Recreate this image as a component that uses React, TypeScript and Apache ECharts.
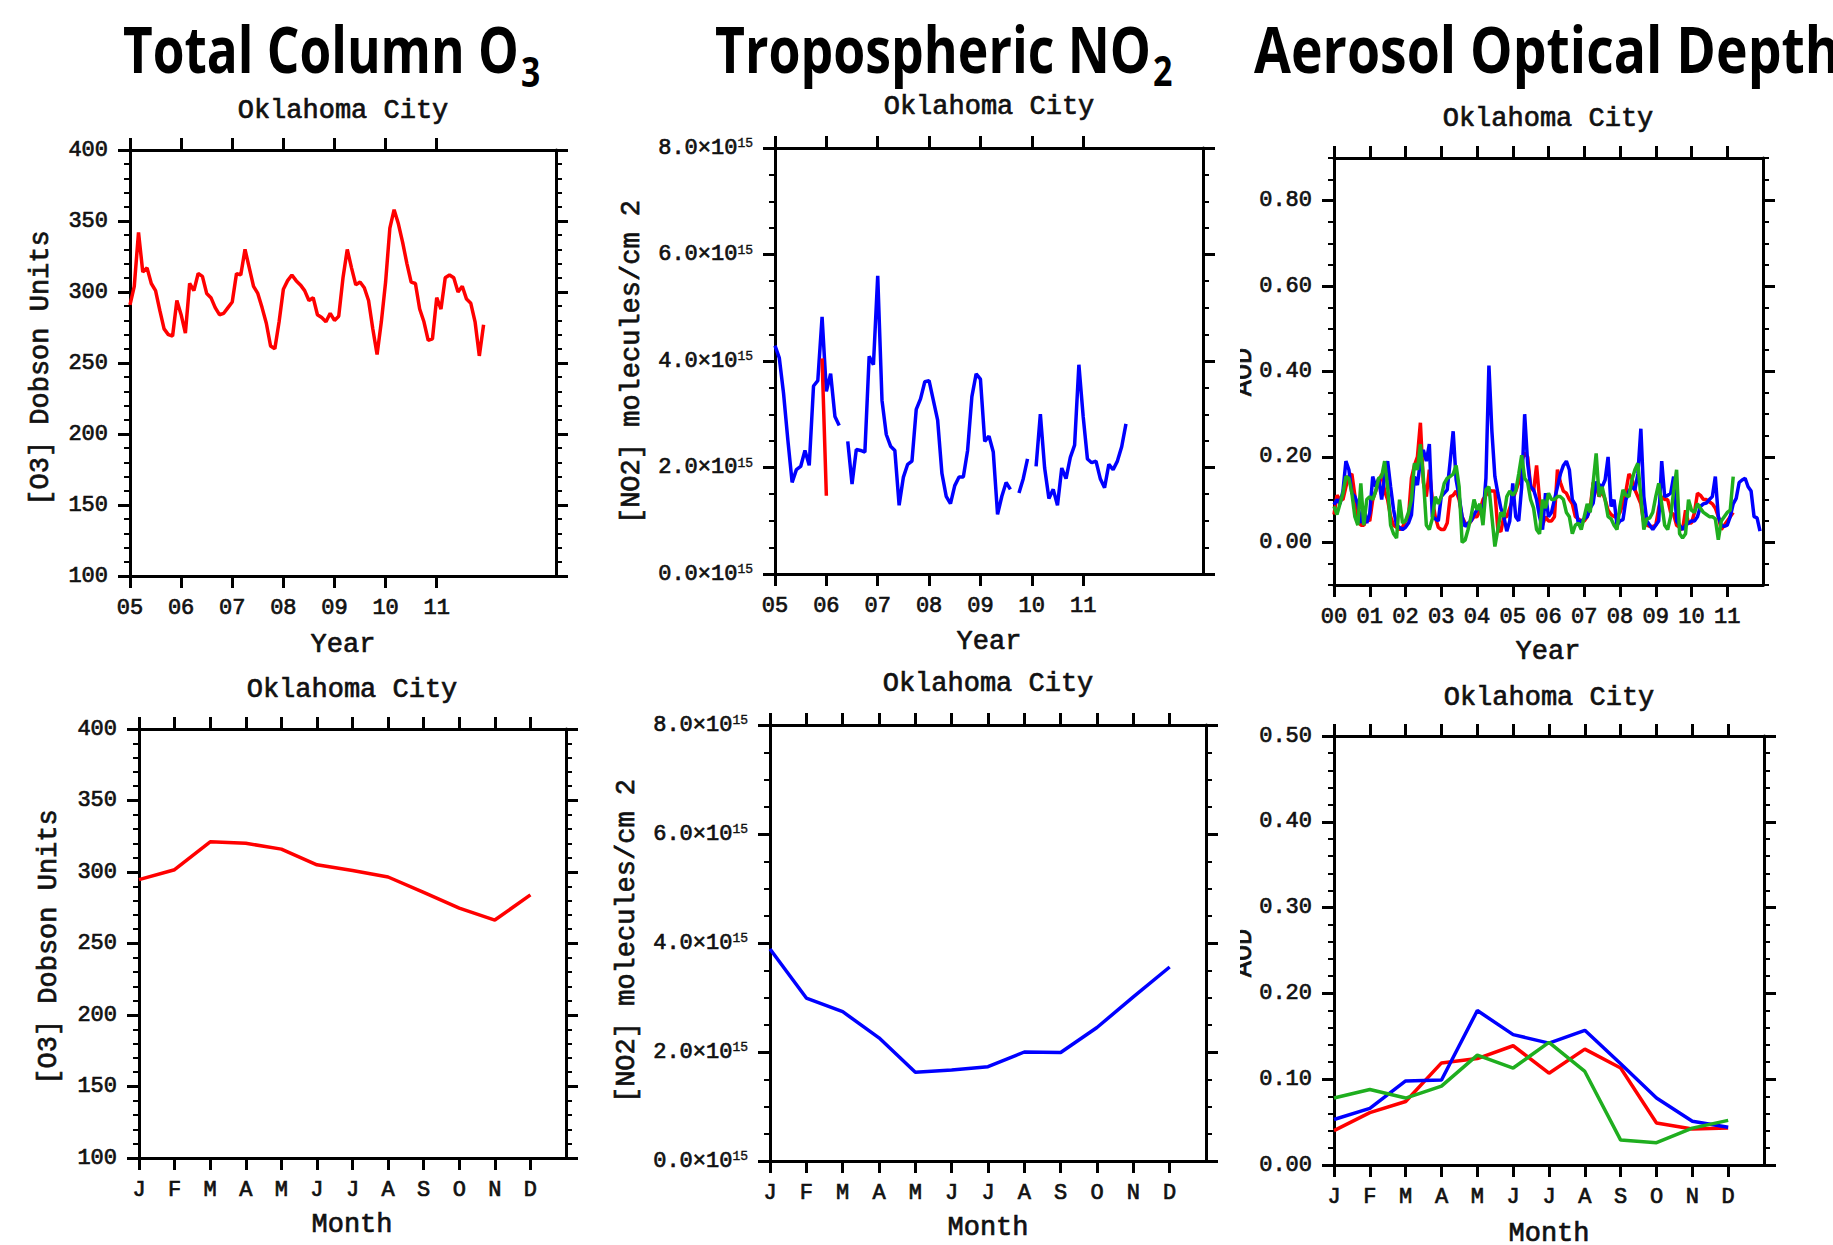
import React, { useEffect, useRef } from 'react';
import * as echarts from 'echarts';

// ---------- tick labels ----------
const YEAR_LABELS_05 = ['05', '06', '07', '08', '09', '10', '11'];
const YEAR_LABELS_00 = ['00', '01', '02', '03', '04', '05', '06', '07', '08', '09', '10', '11'];
const MONTH_LABELS = ['J', 'F', 'M', 'A', 'M', 'J', 'J', 'A', 'S', 'O', 'N', 'D'];

// ---------- Total column O3, monthly 2005-2011 (Dobson Units) ----------
const O3_MONTHLY = [
  291, 304, 342, 314, 317, 306, 301, 287, 274, 270, 269, 294,
  284, 271, 306, 301, 313, 311, 299, 296, 289, 284, 285, 289,
  293, 313, 312, 330, 317, 304, 299, 289, 278, 262, 260, 279,
  302, 308, 312, 308, 305, 301, 294, 296, 284, 282, 279, 285,
  280, 283, 310, 330, 317, 305, 307, 303, 294, 274, 256, 279,
  307, 345, 358, 348, 335, 320, 307, 306, 288, 279, 266, 267,
  296, 288, 310, 312, 310, 300, 304, 295, 292, 279, 255, 277,
];

// ---------- Tropospheric NO2, monthly 2005-2011 (x 1e15 molecules/cm2) ----------
const NO2_MONTHLY: (number | null)[] = [
  4.29, 4.06, 3.39, 2.52, 1.72, 1.96, 2.02, 2.32, 2.04, 3.53, 3.63, 4.83,
  3.43, 3.76, 2.96, 2.79, null, 2.49, 1.69, 2.34, 2.32, 2.29, 4.09, 3.93,
  5.60, 3.26, 2.62, 2.40, 2.32, 1.29, 1.82, 2.06, 2.12, 3.09, 3.29, 3.61,
  3.63, 3.26, 2.89, 1.89, 1.46, 1.32, 1.66, 1.82, 1.82, 2.32, 3.33, 3.76,
  3.66, 2.49, 2.59, 2.29, 1.12, 1.46, 1.72, 1.59, null, 1.52, 1.79, 2.16,
  null, 2.02, 3.00, 1.99, 1.42, 1.59, 1.29, 1.99, 1.79, 2.19, 2.42, 3.93,
  2.96, 2.16, 2.09, 2.12, 1.79, 1.62, 2.06, 1.96, 2.12, 2.39, 2.82,
];
const NO2_RED_MONTHS = [11, 12];
const NO2_RED_VALUES = [4.05, 1.47];

// ---------- AOD monthly 2000-2011 ----------
const AOD_BLUE = [
  0.088, 0.10, 0.09, 0.12, 0.19, 0.17, 0.115, 0.107, 0.09, 0.045, 0.08, 0.045,
  0.068, 0.154, 0.13, 0.15, 0.10, 0.154, 0.19, 0.13, 0.076, 0.04, 0.035, 0.03,
  0.035, 0.045, 0.064, 0.154, 0.134, 0.19, 0.216, 0.19, 0.23, 0.06, 0.055, 0.05,
  0.107, 0.115, 0.123, 0.19, 0.26, 0.146, 0.107, 0.06, 0.037, 0.045, 0.05, 0.065,
  0.076, 0.08, 0.06, 0.15, 0.414, 0.26, 0.154, 0.115, 0.08, 0.06, 0.026, 0.05,
  0.138, 0.06, 0.05, 0.13, 0.30, 0.185, 0.13, 0.123, 0.10, 0.06, 0.03, 0.115,
  0.06, 0.07, 0.10, 0.13, 0.16, 0.18, 0.19, 0.17, 0.10, 0.088, 0.045, 0.05,
  0.055, 0.06, 0.08, 0.092, 0.142, 0.135, 0.13, 0.146, 0.20, 0.084, 0.10, 0.04,
  0.05, 0.053, 0.10, 0.12, 0.13, 0.123, 0.16, 0.266, 0.107, 0.05, 0.04, 0.03,
  0.04, 0.05, 0.19, 0.107, 0.11, 0.115, 0.154, 0.05, 0.04, 0.03, 0.04, 0.045,
  0.05, 0.05, 0.06, 0.084, 0.09, 0.092, 0.10, 0.107, 0.154, 0.06, 0.04, 0.037,
  0.04, 0.06, 0.09, 0.103, 0.14, 0.146, 0.15, 0.13, 0.12, 0.06, 0.057, 0.026,
];
const AOD_RED = [
  0.065, 0.11, 0.10, 0.10, 0.13, 0.155, 0.16, 0.11, 0.06, 0.04, 0.04, 0.055,
  0.05, 0.10, 0.12, 0.14, 0.16, 0.12, 0.10, 0.06, 0.04, 0.035, 0.03, 0.035,
  0.05, 0.06, 0.15, 0.18, 0.20, 0.28, 0.14, 0.107, 0.17, 0.10, 0.06, 0.035,
  0.03, 0.03, 0.045, 0.107, 0.11, 0.12, 0.10, 0.06, 0.045, 0.04, 0.05, 0.06,
  0.06, 0.075, 0.10, 0.11, 0.123, 0.12, 0.12, 0.03, 0.025, 0.06, 0.06, 0.08,
  0.10, 0.12, 0.14, 0.19, 0.21, 0.20, 0.13, 0.12, 0.18, 0.10, 0.04, 0.06,
  0.05, 0.05, 0.06, 0.17, 0.14, 0.12, 0.115, 0.10, 0.09, 0.06, 0.055, 0.05,
  0.05, 0.06, 0.08, 0.14, 0.13, 0.107, 0.12, 0.10, 0.075, 0.065, 0.06, 0.06,
  0.07, 0.09, 0.12, 0.16, 0.15, 0.123, 0.107, 0.09, 0.045, 0.04, 0.037, 0.037,
  0.04, 0.08, 0.107, 0.10, 0.10, 0.07, 0.065, 0.04, 0.035, 0.03, 0.075, 0.045,
  0.045, 0.07, 0.115, 0.11, 0.10, 0.10, 0.095, 0.09, 0.08, 0.06, 0.03, 0.04,
  0.05, 0.06, 0.07,
];
const AOD_GREEN = [
  0.084, 0.065, 0.09, 0.115, 0.154, 0.15, 0.115, 0.06, 0.04, 0.138, 0.04, 0.10,
  0.107, 0.10, 0.12, 0.15, 0.154, 0.19, 0.13, 0.04, 0.02, 0.01, 0.10, 0.045,
  0.05, 0.07, 0.10, 0.185, 0.17, 0.23, 0.15, 0.04, 0.03, 0.055, 0.107, 0.09,
  0.107, 0.138, 0.15, 0.154, 0.16, 0.18, 0.13, 0.0, 0.005, 0.03, 0.06, 0.10,
  0.076, 0.09, 0.04, 0.123, 0.13, 0.06, -0.01, 0.03, 0.07, 0.06, 0.107, 0.12,
  0.11, 0.12, 0.16, 0.204, 0.15, 0.14, 0.10, 0.08, 0.03, 0.02, 0.10, 0.08,
  0.115, 0.10, 0.10, 0.107, 0.107, 0.10, 0.07, 0.06, 0.02, 0.04, 0.045, 0.03,
  0.06, 0.09, 0.07, 0.14, 0.208, 0.107, 0.13, 0.10, 0.06, 0.055, 0.04, 0.03,
  0.085, 0.123, 0.11, 0.107, 0.146, 0.17, 0.185, 0.107, 0.03, 0.055, 0.057, 0.07,
  0.107, 0.138, 0.09, 0.04, 0.03, 0.06, 0.12, 0.17, 0.02, 0.01, 0.02, 0.10,
  0.075, 0.07, 0.09, 0.08, 0.07, 0.065, 0.06, 0.06, 0.055, 0.006, 0.05, 0.06,
  0.07, 0.075, 0.154,
];

// ---------- monthly climatologies ----------
const O3_CLIM = [294.7, 301.6, 321.1, 320.1, 316.0, 305.0, 301.1, 296.5, 285.7, 274.7, 266.4, 284.0];
const NO2_CLIM = [3.89, 2.99, 2.74, 2.26, 1.63, 1.67, 1.73, 2.0, 1.99, 2.45, 3.01, 3.56];
const AOD_CLIM_RED = [0.04, 0.061, 0.074, 0.119, 0.124, 0.139, 0.107, 0.135, 0.113, 0.049, 0.042, 0.043];
const AOD_CLIM_BLUE = [0.053, 0.066, 0.098, 0.099, 0.18, 0.152, 0.142, 0.157, 0.118, 0.078, 0.051, 0.044];
const AOD_CLIM_GREEN = [0.078, 0.088, 0.078, 0.092, 0.128, 0.113, 0.143, 0.109, 0.029, 0.026, 0.043, 0.052];

const RED = '#ff0000';
const BLUE = '#0000ff';
const GREEN = '#1fae1f';
const INK = '#111111';
const FONT = '"Liberation Mono", "DejaVu Sans Mono", monospace';
const TITLE_FONT = '"Open Sans", "Noto Sans", sans-serif';
const TEXT_STROKE = 0.7;

function steps(min: number, max: number, step: number): number[] {
  const out: number[] = [];
  const n = Math.round((max - min) / step);
  for (let k = 0; k <= n; k++) out.push(+(min + k * step).toFixed(6));
  return out;
}

function pairs(values: (number | null)[], xs?: number[]) {
  return values.map((v, i) => [xs ? xs[i] : i, v === null ? '-' : v]);
}

function measure(text: string, font: string): number {
  const ctx = document.createElement('canvas').getContext('2d')!;
  ctx.font = font;
  return ctx.measureText(text).width;
}

type Panel = {
  box: [number, number, number, number];
  xMax: number;
  xTicks: number[];
  xFmt: (v: number) => string;
  yMin: number;
  yMax: number;
  yMajor: number[];
  yMinor: number;
  yFmt: (v: number) => string;
  series: { color: string; data: any[] }[];
  subtitle: [number, number];
  yName?: [string, number, number];
  xName: [string, number, number];
};

function plainText(text: string, x: number, y: number, rotation = 0) {
  return {
    type: 'text', x, y, rotation, z: 10,
    style: {
      text, fontFamily: FONT, fontSize: 27, fill: INK, stroke: INK, lineWidth: TEXT_STROKE,
      align: 'center', verticalAlign: 'middle',
    },
  };
}

function buildOption() {
  const yearFmt05 = (v: number) => YEAR_LABELS_05[Math.round(v / 12)] ?? '';
  const yearFmt00 = (v: number) => YEAR_LABELS_00[Math.round(v / 12)] ?? '';
  const monFmt = (v: number) => MONTH_LABELS[Math.round(v)] ?? '';
  const no2Fmt = (v: number) => `{b|${v.toFixed(1)}×10}{s|15}`;
  const aodFmt = (v: number) => v.toFixed(2);
  const intFmt = (v: number) => String(v);

  const panels: Panel[] = [
    {
      box: [130, 150, 426, 426], xMax: 100, xTicks: steps(0, 72, 12), xFmt: yearFmt05,
      yMin: 100, yMax: 400, yMajor: steps(100, 400, 50), yMinor: 10, yFmt: intFmt,
      series: [{ color: RED, data: pairs(O3_MONTHLY) }],
      subtitle: [343, 111], yName: ['[O3] Dobson Units', 41, 368], xName: ['Year', 343, 645],
    },
    {
      box: [775, 148, 428, 426], xMax: 100, xTicks: steps(0, 72, 12), xFmt: yearFmt05,
      yMin: 0, yMax: 8, yMajor: steps(0, 8, 2), yMinor: 0.5, yFmt: no2Fmt,
      series: [
        { color: BLUE, data: pairs(NO2_MONTHLY) },
        { color: RED, data: pairs(NO2_RED_VALUES, NO2_RED_MONTHS) },
      ],
      subtitle: [989, 107], yName: ['[NO2] molecules/cm 2', 632, 362], xName: ['Year', 989, 642],
    },
    {
      box: [1334, 158, 429, 427], xMax: 144, xTicks: steps(0, 132, 12), xFmt: yearFmt00,
      yMin: -0.1, yMax: 0.9, yMajor: steps(0, 0.8, 0.2), yMinor: 0.05, yFmt: aodFmt,
      series: [
        { color: RED, data: pairs(AOD_RED) },
        { color: BLUE, data: pairs(AOD_BLUE) },
        { color: GREEN, data: pairs(AOD_GREEN) },
      ],
      subtitle: [1548, 119], xName: ['Year', 1548, 652],
    },
    {
      box: [139, 729, 427, 429], xMax: 12, xTicks: steps(0, 11, 1), xFmt: monFmt,
      yMin: 100, yMax: 400, yMajor: steps(100, 400, 50), yMinor: 10, yFmt: intFmt,
      series: [{ color: RED, data: pairs(O3_CLIM) }],
      subtitle: [352, 690], yName: ['[O3] Dobson Units', 49, 947], xName: ['Month', 352, 1225],
    },
    {
      box: [770, 725, 436, 436], xMax: 12, xTicks: steps(0, 11, 1), xFmt: monFmt,
      yMin: 0, yMax: 8, yMajor: steps(0, 8, 2), yMinor: 0.5, yFmt: no2Fmt,
      series: [{ color: BLUE, data: pairs(NO2_CLIM) }],
      subtitle: [988, 684], yName: ['[NO2] molecules/cm 2', 627, 941], xName: ['Month', 988, 1228],
    },
    {
      box: [1334, 736, 430, 429], xMax: 12, xTicks: steps(0, 11, 1), xFmt: monFmt,
      yMin: 0, yMax: 0.5, yMajor: steps(0, 0.5, 0.1), yMinor: 0.02, yFmt: aodFmt,
      series: [
        { color: RED, data: pairs(AOD_CLIM_RED) },
        { color: BLUE, data: pairs(AOD_CLIM_BLUE) },
        { color: GREEN, data: pairs(AOD_CLIM_GREEN) },
      ],
      subtitle: [1549, 698], xName: ['Month', 1549, 1234],
    },
  ];

  const grid: any[] = [];
  const xAxis: any[] = [];
  const yAxis: any[] = [];
  const series: any[] = [];
  const graphic: any[] = [];

  const lineStyle = { color: '#000', width: 3 };
  const labelStyle = {
    fontFamily: FONT, fontSize: 22, color: INK,
    textBorderColor: INK, textBorderWidth: TEXT_STROKE,
  };

  panels.forEach((p, gi) => {
    const [left, top, width, height] = p.box;
    grid.push({ left, top, width, height, containLabel: false });

    const xBase = {
      gridIndex: gi, type: 'value', min: 0, max: p.xMax, splitLine: { show: false },
      axisLine: { show: true, onZero: false, lineStyle },
      axisTick: { show: true, inside: false, customValues: p.xTicks, length: 12, lineStyle: { color: '#000', width: 3 } },
    };
    const xIdx = xAxis.length;
    xAxis.push({
      ...xBase, position: 'bottom',
      axisLabel: { show: true, customValues: p.xTicks, formatter: p.xFmt, margin: 21, ...labelStyle },
    });
    xAxis.push({ ...xBase, position: 'top', axisLabel: { show: false } });

    const yBase = { gridIndex: gi, type: 'value', min: p.yMin, max: p.yMax, splitLine: { show: false } };
    const yIdx = yAxis.length;
    yAxis.push({
      ...yBase, position: 'left',
      axisLine: { show: true, onZero: false, lineStyle },
      axisTick: { show: true, inside: false, customValues: p.yMajor, length: 12, lineStyle: { color: '#000', width: 3 } },
      axisLabel: {
        show: true, customValues: p.yMajor, formatter: p.yFmt, margin: 22, ...labelStyle,
        rich: {
          b: { fontFamily: FONT, fontSize: 22, color: INK, textBorderColor: INK, textBorderWidth: TEXT_STROKE },
          s: { fontFamily: FONT, fontSize: 13, color: INK, verticalAlign: 'top', textBorderColor: INK, textBorderWidth: 0.4 },
        },
      },
    });
    yAxis.push({
      ...yBase, position: 'left', interval: p.yMinor,
      axisLine: { show: false, onZero: false },
      axisTick: { show: true, inside: false, length: 6, lineStyle: { color: '#000', width: 2 } },
      axisLabel: { show: false },
    });
    yAxis.push({
      ...yBase, position: 'right',
      axisLine: { show: true, onZero: false, lineStyle },
      axisTick: { show: true, inside: false, customValues: p.yMajor, length: 12, lineStyle: { color: '#000', width: 3 } },
      axisLabel: { show: false },
    });
    yAxis.push({
      ...yBase, position: 'right', interval: p.yMinor,
      axisLine: { show: false, onZero: false },
      axisTick: { show: true, inside: false, length: 6, lineStyle: { color: '#000', width: 2 } },
      axisLabel: { show: false },
    });

    p.series.forEach((s) => {
      series.push({
        type: 'line', xAxisIndex: xIdx, yAxisIndex: yIdx, data: s.data,
        showSymbol: false, symbol: 'none', connectNulls: false, silent: true,
        lineStyle: { color: s.color, width: 3.5 }, itemStyle: { color: s.color },
      });
    });

    graphic.push(plainText('Oklahoma City', p.subtitle[0], p.subtitle[1]));
    graphic.push(plainText(p.xName[0], p.xName[1], p.xName[2]));
    if (p.yName) graphic.push(plainText(p.yName[0], p.yName[1], p.yName[2], Math.PI / 2));
  });

  // "AOD" axis names, cut by the left edge of the original image panel
  [372, 953].forEach((cy) => {
    graphic.push(plainText('AOD', 1244, cy, Math.PI / 2));
    graphic.push({
      type: 'rect', z: 20, shape: { x: 1222, y: cy - 60, width: 18, height: 120 },
      style: { fill: '#fff' },
    });
  });

  // big panel headers
  const titleFont = `bold 64px ${TITLE_FONT}`;
  const titles: { main: string; sub: string; left: number; width: number }[] = [
    { main: 'Total Column O', sub: '3', left: 123, width: 396 },
    { main: 'Tropospheric NO', sub: '2', left: 715, width: 436 },
    { main: 'Aerosol Optical Depth', sub: '', left: 1254, width: 586 },
  ];
  titles.forEach((t) => {
    const natural = measure(t.main, titleFont) || t.width;
    const sx = t.width / natural;
    graphic.push({
      type: 'text', x: t.left, y: 48, scaleX: sx, z: 10,
      style: { text: t.main, fontFamily: TITLE_FONT, fontWeight: 'bold', fontSize: 64, fill: '#000', align: 'left', verticalAlign: 'middle' },
    });
    if (t.sub) {
      graphic.push({
        type: 'text', x: t.left + t.width + 2, y: 70, scaleX: sx, z: 10,
        style: { text: t.sub, fontFamily: TITLE_FONT, fontWeight: 'bold', fontSize: 42, fill: '#000', align: 'left', verticalAlign: 'middle' },
      });
    }
  });

  return {
    animation: false,
    backgroundColor: '#ffffff',
    grid, xAxis, yAxis, series, graphic,
  };
}

export default function App() {
  const ref = useRef<HTMLDivElement>(null);
  useEffect(() => {
    if (!ref.current) return;
    const chart = echarts.init(ref.current, null, { renderer: 'svg' });
    chart.setOption(buildOption() as any);
    return () => chart.dispose();
  }, []);
  return (
    <div
      ref={ref}
      style={{ position: 'absolute', left: 0, top: 0, width: 1833, height: 1245, background: '#fff' }}
    />
  );
}
